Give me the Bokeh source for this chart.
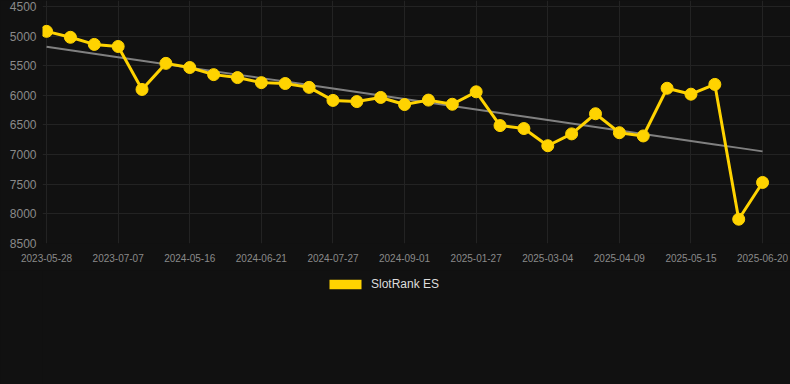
from bokeh.plotting import figure
from bokeh.layouts import column
from bokeh.models import Range1d, FixedTicker, Legend, LegendItem, ColumnDataSource
from bokeh.embed import file_html
from bokeh.resources import INLINE
import numpy as np

# --- data -------------------------------------------------------------
tick_labels = ["2023-05-28", "2023-07-07", "2024-05-16", "2024-06-21", "2024-07-27",
               "2024-09-01", "2025-01-27", "2025-03-04", "2025-04-09", "2025-05-15",
               "2025-06-20"]
rank_values = [4920, 5020, 5140, 5175, 5900, 5460, 5530, 5650, 5700, 5785, 5800,
               5865, 6085, 6105, 6035, 6155, 6080, 6150, 5940, 6510, 6560, 6850,
               6650, 6310, 6630, 6685, 5880, 5980, 5815, 8090, 7470]
y_ticks = [4500, 5000, 5500, 6000, 6500, 7000, 7500, 8000, 8500]
series_name = "SlotRank ES"

x_idx = list(range(len(rank_values)))
label_step = 3
tick_pos = x_idx[::label_step]

# linear trend from the series
coef = np.polyfit(x_idx, rank_values, 1)
trend = [float(v) for v in np.polyval(coef, x_idx)]

BG = "#111111"
GOLD = "#FFD300"
FONT = "Liberation Sans"

p = figure(width=790, height=270, output_backend="svg", toolbar_location=None,
           x_range=Range1d(-0.17, 31.17), y_range=Range1d(8500, 4399),
           min_border_left=42, min_border_right=0, min_border_top=0,
           min_border_bottom=27, styles={"background-color": BG})
p.background_fill_color = BG
p.border_fill_color = BG
p.outline_line_color = None

p.line(x_idx, trend, line_color="#808080", line_width=2)
src = ColumnDataSource(dict(x=x_idx, y=rank_values))
p.line("x", "y", source=src, line_color=GOLD, line_width=3)
p.scatter("x", "y", source=src, size=12, fill_color=GOLD, line_color=GOLD)

# axes
p.xaxis.ticker = FixedTicker(ticks=tick_pos)
p.xaxis.major_label_overrides = {pos: lab for pos, lab in zip(tick_pos, tick_labels)}
p.yaxis.ticker = FixedTicker(ticks=y_ticks)
for ax in (p.xaxis[0], p.yaxis[0]):
    ax.axis_line_color = None
    ax.major_tick_line_color = None
    ax.minor_tick_line_color = None
    ax.major_tick_out = 0
    ax.major_tick_in = 0
    ax.major_label_text_color = "#8a8a8a"
    ax.major_label_text_font = FONT
p.xaxis.major_label_text_font_size = "10px"
p.yaxis.major_label_text_font_size = "12px"
p.xaxis.major_label_standoff = 10
p.yaxis.major_label_standoff = 6

p.xgrid.grid_line_color = "#232323"
p.ygrid.grid_line_color = "#232323"
p.xgrid.ticker = FixedTicker(ticks=tick_pos)
p.ygrid.ticker = FixedTicker(ticks=y_ticks)

# --- legend strip below the chart -------------------------------------
leg = figure(width=790, height=114, output_backend="svg", toolbar_location=None,
             x_axis_type=None, y_axis_type=None,
             x_range=Range1d(-1000, -999), y_range=Range1d(-1000, -999),
             min_border_left=42, min_border_right=0, min_border_top=0,
             min_border_bottom=0, styles={"background-color": BG})
leg.background_fill_color = BG
leg.border_fill_color = BG
leg.outline_line_color = None
# zero-size rects (outside the empty view): only give the legend a filled swatch
swatch = leg.rect("x", "y", width=0, height=0, source=src,
                  fill_color=GOLD, line_color=None)

legend = Legend(items=[LegendItem(label=series_name, renderers=[swatch])],
                location=(283, 93), orientation="horizontal",
                background_fill_color=BG, background_fill_alpha=1,
                border_line_color=None,
                glyph_width=40, glyph_height=12, label_height=12,
                label_standoff=6, label_text_font=FONT,
                label_text_font_size="12px", label_text_color="#dddddd",
                margin=0, padding=8)
leg.add_layout(legend, "center")

page = column(p, leg, spacing=0, styles={"background-color": BG})
open("out.html", "w").write(file_html(page, INLINE))
